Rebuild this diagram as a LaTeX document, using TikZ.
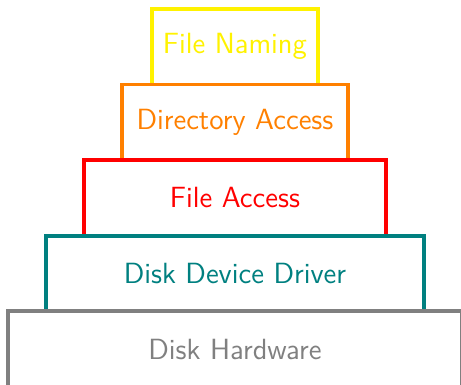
\documentclass[tikz,border=0pt]{standalone}
\usetikzlibrary{positioning}

\tikzset{
	layer/.style={draw, rectangle, line width=1.5pt, outer sep=0pt, inner sep=0pt,
		minimum height=1cm, font=\sffamily\fontsize{11}{13}\selectfont}
}

\begin{document}
\begin{tikzpicture}
			%%%%% START %%%%%
			
			\useasboundingbox (-3.108, 0.028) rectangle (2.99, 5.118);
			
			\node[layer, draw=yellow, text=yellow, minimum width=2.2cm] (naming) at (0, 4.5) {File Naming};
			\node[layer, draw=orange, text=orange, minimum width=3cm, below=0pt of naming] (directory) {Directory Access};
			\node[layer, draw=red, text=red, minimum width=4cm, below=0pt of directory] (access) {File Access};
			\node[layer, draw=teal, text=teal, minimum width=5cm, below=0pt of access] (driver) {Disk Device Driver};
			\node[layer, draw=gray, text=gray, minimum width=6cm, below=0pt of driver] (hardware) {Disk Hardware};
			
			%%%%% END %%%%%
		\end{tikzpicture}
\end{document}
